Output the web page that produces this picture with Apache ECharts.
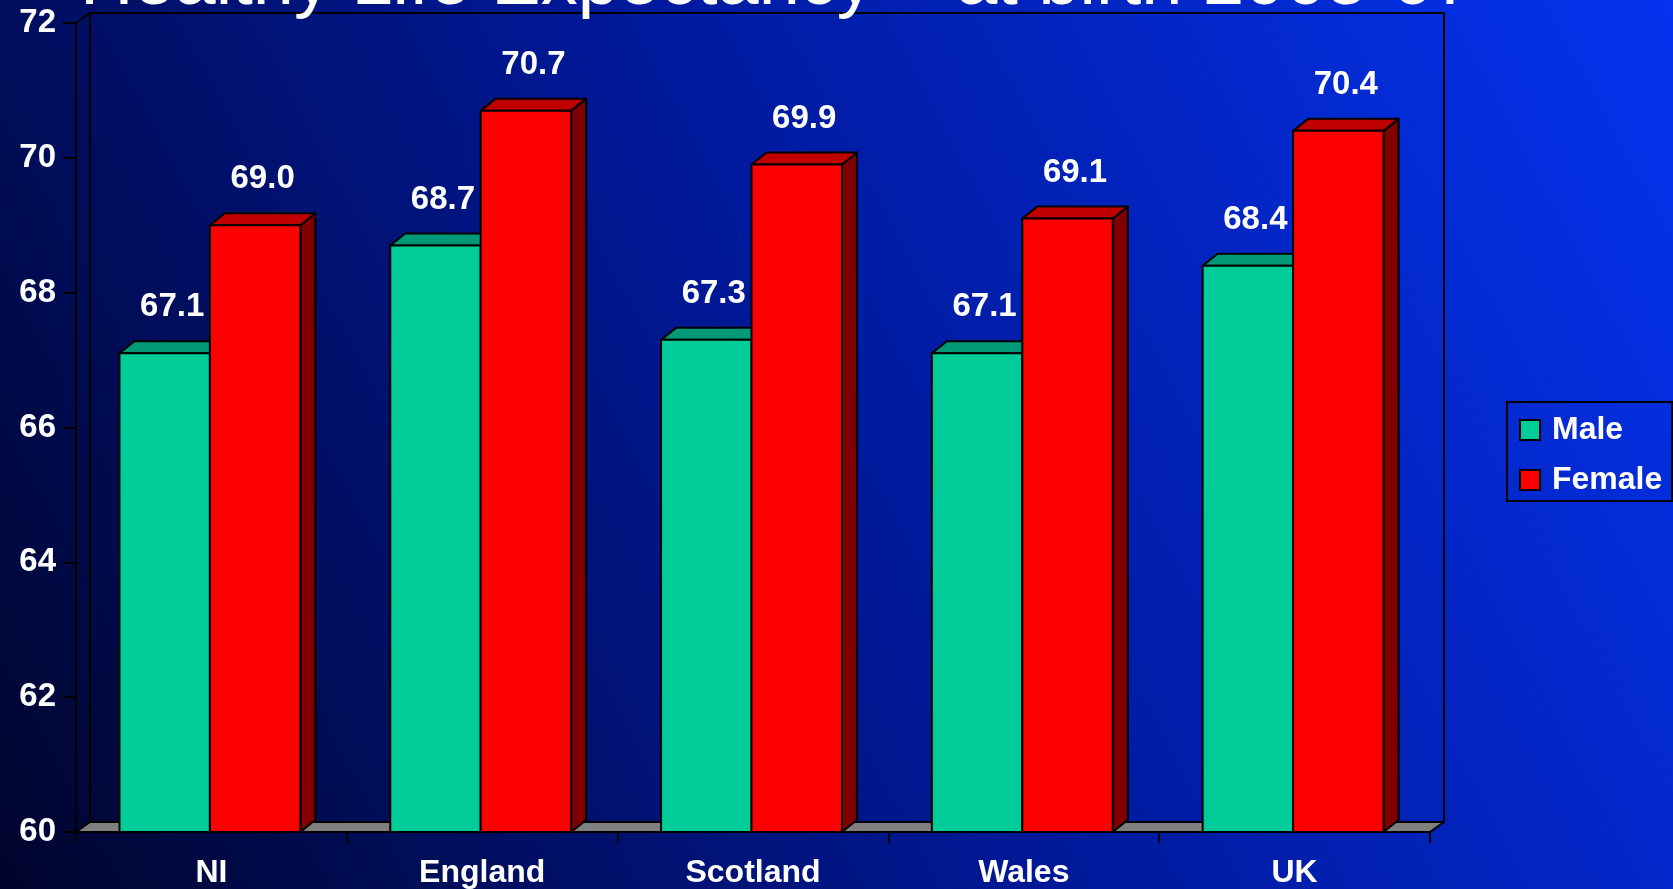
<!DOCTYPE html>
<html><head><meta charset="utf-8">
<script src="https://cdn.jsdelivr.net/npm/echarts@6/dist/echarts.min.js"></script>
<style>html,body{margin:0;padding:0;overflow:hidden;background:#000}#c{width:1673px;height:889px}</style>
</head><body><div id="c"></div>
<script>
const categories = ['NI', 'England', 'Scotland', 'Wales', 'UK'];
const maleValues = [67.1, 68.7, 67.3, 67.1, 68.4];
const femaleValues = [69.0, 70.7, 69.9, 69.1, 70.4];
const seriesNames = ['Male', 'Female'];
const titleText = 'Healthy Life Expectancy – at birth 2005-07';
const yMin = 60, yMax = 72, yStep = 2;

const FONT = '"Liberation Sans", Arial, sans-serif';
const DX = 15, DY = 12;     // bar depth
const WDX = 14, WDY = 10;   // wall depth
const palettes = [
  {front: '#00cc99', top: '#009a78', side: '#006e55'},
  {front: '#ff0000', top: '#c00000', side: '#800000'}
];

function barRender(sIdx) {
  return function (params, api) {
    const i = api.value(0), v = api.value(1);
    const p = api.coord([i, v]);
    const b = api.coord([i, yMin]);
    const band = api.size([1, 0])[0];
    const bw = band * 0.334;
    const x0 = sIdx === 0 ? p[0] - bw - 1.5 : p[0] - 1.5;
    const x1 = x0 + bw, yt = p[1], yb = b[1];
    const pal = palettes[sIdx];
    const st = (fill) => ({fill: fill, stroke: '#000', lineWidth: 2, lineJoin: 'round'});
    return {type: 'group', children: [
      {type: 'polygon', shape: {points: [[x1, yb], [x1 + DX, yb - DY], [x1 + DX, yt - DY], [x1, yt]]}, style: st(pal.side)},
      {type: 'polygon', shape: {points: [[x0, yt], [x1, yt], [x1 + DX, yt - DY], [x0 + DX, yt - DY]]}, style: st(pal.top)},
      {type: 'rect', shape: {x: x0, y: yt, width: bw, height: yb - yt}, style: st(pal.front)},
      {type: 'text', x: (x0 + x1) / 2 + DX / 2, y: yt - 46,
        style: {text: v.toFixed(1), fill: '#fff', fontSize: 33, fontWeight: 'bold', fontFamily: FONT, align: 'center', verticalAlign: 'middle'}}
    ]};
  };
}

function frameRender(params, api) {
  const cs = params.coordSys;
  const x = cs.x, y = cs.y, w = cs.width, h = cs.height;
  const ln = {stroke: '#000', lineWidth: 2};
  return {type: 'group', children: [
    {type: 'polygon', shape: {points: [[x + WDX, y - WDY], [x + w + WDX, y - WDY], [x + w + WDX, y + h - WDY], [x + WDX, y + h - WDY]]},
      style: {fill: 'none', stroke: '#000', lineWidth: 2}},
    {type: 'polygon', shape: {points: [[x, y + h], [x + w, y + h], [x + w + WDX, y + h - WDY], [x + WDX, y + h - WDY]]},
      style: {fill: '#808080', stroke: '#000', lineWidth: 2, lineJoin: 'round'}},
    {type: 'line', shape: {x1: x, y1: y, x2: x + WDX, y2: y - WDY}, style: ln}
  ]};
}

const chart = echarts.init(document.getElementById('c'), null, {renderer: 'canvas'});
chart.setOption({
  animation: false,
  backgroundColor: new echarts.graphic.LinearGradient(0, 1, 1, 0, [
    {offset: 0, color: '#00052c'},
    {offset: 0.5, color: '#00199a'},
    {offset: 1, color: '#0533f0'}
  ]),
  graphic: [{
    type: 'text', left: 80, top: -53, z: 100,
    style: {text: titleText, fill: '#fff', fontSize: 74, fontFamily: FONT, fontWeight: 'normal'}
  }],
  grid: {left: 76, right: 243, top: 23, bottom: 57, containLabel: false, outerBoundsMode: 'none'},
  legend: {
    data: seriesNames, orient: 'vertical', left: 1507, top: 402,
    padding: [12, 10, 5, 12], itemGap: 18, itemWidth: 20, itemHeight: 20, icon: 'rect',
    borderColor: '#000', borderWidth: 2,
    itemStyle: {borderColor: '#000', borderWidth: 2},
    textStyle: {color: '#fff', fontSize: 32, fontWeight: 'bold', fontFamily: FONT, padding: [0, 0, 0, 7]}
  },
  xAxis: {
    type: 'category', data: categories,
    axisLine: {show: true, lineStyle: {color: '#000', width: 2}},
    axisTick: {show: true, length: 11, lineStyle: {color: '#000', width: 2}},
    axisLabel: {color: '#fff', fontSize: 32, fontWeight: 'bold', fontFamily: FONT, margin: 25}
  },
  yAxis: {
    type: 'value', min: yMin, max: yMax, interval: yStep,
    axisLine: {show: true, lineStyle: {color: '#000', width: 2}},
    axisTick: {show: true, length: 13, lineStyle: {color: '#000', width: 2}},
    axisLabel: {color: '#fff', fontSize: 33, fontWeight: 'bold', fontFamily: FONT, margin: 20},
    splitLine: {show: false}
  },
  series: [
    {type: 'custom', name: '_frame', silent: true, clip: false, z: 1, renderItem: frameRender, data: [[0, yMin]]},
    {type: 'custom', name: seriesNames[0], clip: false, z: 2, renderItem: barRender(0),
      itemStyle: {color: palettes[0].front}, data: maleValues.map((v, i) => [i, v])},
    {type: 'custom', name: seriesNames[1], clip: false, z: 3, renderItem: barRender(1),
      itemStyle: {color: palettes[1].front}, data: femaleValues.map((v, i) => [i, v])}
  ]
});
</script></body></html>
